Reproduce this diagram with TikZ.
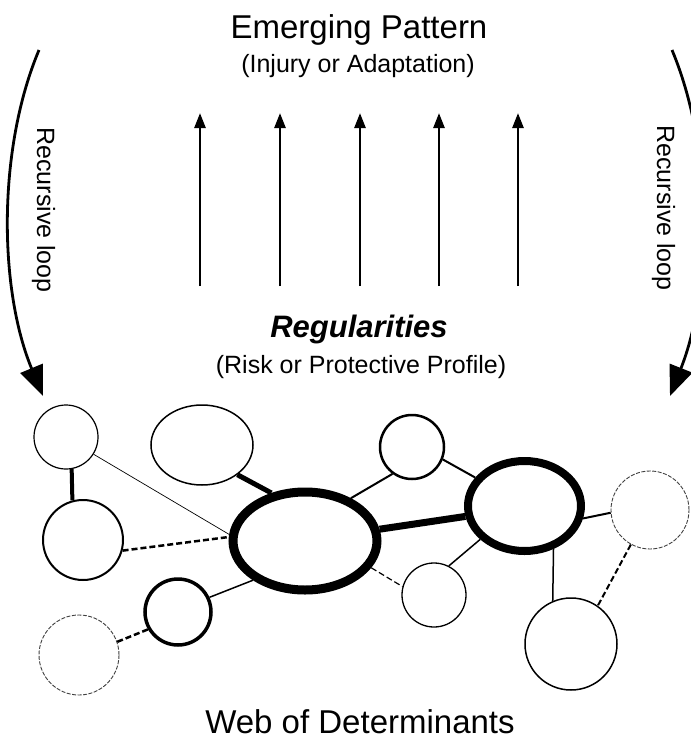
\documentclass[tikz,border=0pt]{standalone}
\usepackage{fontspec}
\setmainfont{Liberation Sans}
\usetikzlibrary{arrows.meta,shapes.geometric}

\begin{document}
\begin{tikzpicture}[x=1pt,y=-1pt,
  web/.style={ellipse, draw, inner sep=0pt, fill=white},
  faint/.style={web, line width=0.9pt, draw=black!75, dash pattern=on 4pt off 1.5pt},
  link/.style={line width=#1},
  dlink/.style={line width=#1, dash pattern=on 6pt off 3pt},
  riser/.style={line width=2.5pt, -{Triangle[length=15pt,width=11pt]}},
  recur/.style={line width=2.8pt, -{Triangle[length=30pt,width=24pt]}},
  big/.style={font=\fontsize{33}{40}\selectfont, anchor=base, inner sep=0pt},
  small/.style={font=\fontsize{25}{30}\selectfont, anchor=base, inner sep=0pt},
]
\clip (0,0) rectangle (691,740);
\fill[white] (0,0) rectangle (691,740);

% titles
\node[big] (title) at (359,38) {Emerging Pattern};
\node[small] (titlesub) at (358,72) {(Injury or Adaptation)};
\node[font=\fontsize{31}{36}\selectfont\bfseries\itshape, anchor=base, inner sep=0pt] (reg) at (359,337) {Regularities};
\node[small] (regsub) at (361,373) {(Risk or Protective Profile)};
\node[big] (webtitle) at (360,733) {Web of Determinants};

% side labels
\node[small, rotate=-90] (loopLtxt) at (37,210) {Recursive loop};
\node[small, rotate=-90] (loopRtxt) at (657,208) {Recursive loop};

% upward arrows
\foreach \x [count=\i] in {200,280,360,439,518} {
  \coordinate (up\i b) at (\x,286);
  \coordinate (up\i t) at (\x,113);
  \draw[riser] (up\i b) -- (up\i t);
}

% recursive loops
\coordinate (loopLs) at (39,50);
\coordinate (loopLe) at (43,396);
\coordinate (loopRs) at (672,50);
\coordinate (loopRe) at (670,396);
\draw[recur] (loopLs) .. controls (-3,150) and (-1,290) .. (loopLe);
\draw[recur] (loopRs) .. controls (714,150) and (712,290) .. (loopRe);

% web of determinants
\node[web, line width=1.2pt, minimum width=64, minimum height=64] (A) at (66,437) {};
\node[web, line width=1.5pt, minimum width=102, minimum height=80] (B) at (202,445) {};
\node[web, line width=2pt, minimum width=80, minimum height=80] (C) at (83,540) {};
\node[web, line width=3.5pt, minimum width=66, minimum height=66] (D) at (178,612) {};
\node[faint, minimum width=80, minimum height=80] (E) at (79,655) {};
\node[web, line width=9pt, minimum width=144, minimum height=98] (M) at (305,541) {};
\node[web, line width=2.5pt, minimum width=64, minimum height=64] (F) at (412,447) {};
\node[web, line width=8pt, minimum width=113, minimum height=90] (G) at (524.5,506) {};
\node[web, line width=1.3pt, minimum width=64, minimum height=64] (H) at (434,595) {};
\node[faint, minimum width=78, minimum height=78] (I) at (650,510) {};
\node[web, line width=1.5pt, minimum width=92, minimum height=92] (J) at (571,644) {};

\draw[link=4pt] (A.-80) -- (C.105);
\draw[link=0.7pt] (A.-32) -- (M.175);
\draw[dlink=2.5pt] (C.-15) -- (M.177);
\draw[dlink=2.5pt] (E.19) -- (D.210);
\draw[link=1.5pt] (D.25) -- (M.217);
\draw[link=5pt] (B.-40) -- (M.125);
\draw[link=2pt] (M.43) -- (F.234);
\draw[link=2pt] (F.-22) -- (G.150);
\draw[link=7pt] (M.9) -- (G.190);
\draw[link=1.5pt] (G.217) -- (H.63);
\draw[dlink=1.2pt] (M.-22) -- (H.165);
\draw[link=2pt] (G.-12) -- (I.184);
\draw[link=1.5pt] (G.-56) -- (J.113);
\draw[dlink=2pt] (I.241) -- (J.55);
\end{tikzpicture}
\end{document}
